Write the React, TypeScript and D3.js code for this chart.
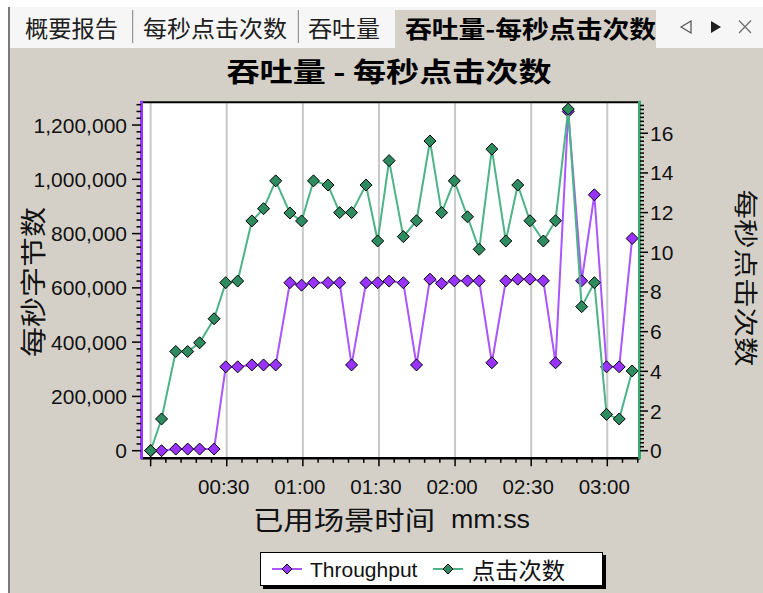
import React from "react";
import * as d3 from "d3";

// ---- data ----
const timesSec = [0, 4.3, 9.9, 14.6, 19.3, 25.0, 29.6, 34.3, 39.9, 44.5, 49.3, 54.9, 59.5, 64.2, 69.9, 74.5, 79.2, 84.9, 89.5, 94.0, 99.6, 104.8, 110.1, 114.7, 119.7, 124.9, 129.5, 134.5, 140.0, 144.7, 149.5, 154.8, 159.6, 164.6, 169.9, 174.9, 179.7, 184.7, 189.8];
const throughput = [0, 0, 6000, 6000, 6000, 6000, 309000, 309000, 316000, 316000, 316000, 619000, 610000, 619000, 619000, 619000, 316000, 619000, 619000, 625000, 619000, 316000, 632000, 616000, 626000, 626000, 626000, 324000, 626000, 632000, 632000, 626000, 324000, 1250000, 626000, 943000, 309000, 309000, 782000];
const hits = [0, 1.6, 5.0, 5.0, 5.44, 6.65, 8.47, 8.55, 11.58, 12.2, 13.6, 11.98, 11.58, 13.6, 13.39, 12.0, 12.0, 13.39, 10.57, 14.62, 10.79, 11.59, 15.61, 12.0, 13.6, 11.79, 10.15, 15.2, 10.57, 13.39, 11.59, 10.57, 11.59, 17.22, 7.26, 8.47, 1.83, 1.6, 4.02];

const xTickSec = [30, 60, 90, 120, 150, 180];
const xTickLabels = ["00:30", "01:00", "01:30", "02:00", "02:30", "03:00"];
const gridSec = [0, 30, 60, 90, 120, 150, 180];
const leftTicks = [0, 200000, 400000, 600000, 800000, 1000000, 1200000];
const rightTicks = [0, 2, 4, 6, 8, 10, 12, 14, 16];

const tabs = ["概要报告", "每秒点击次数", "吞吐量"];
const activeTab = "吞吐量-每秒点击次数";
const title = "吞吐量 - 每秒点击次数";
const leftTitle = "每秒字节数";
const rightTitle = "每秒点击次数";
const xTitle = "已用场景时间";
const xTitleUnit = "mm:ss";
const seriesNames = ["Throughput", "点击次数"];

// ---- styles ----
const W = 763, H = 593;
const PL = 141, PR = 639, PT = 101.7, PB = 458.3;
const PANEL = "#d4d0c8";
const PURPLE_LINE = "#aa55ff";
const PURPLE_FILL = "#9933ff";
const GREEN_LINE = "#4db386";
const GREEN_FILL = "#2e8b5f";
const CJK = "'Noto Sans CJK SC', sans-serif";
const LAT = "'Liberation Sans', Arial, sans-serif";

const x = d3.scaleLinear().domain([-3.8, 192.5]).range([PL, PR]);
const yL = d3.scaleLinear().domain([-28000, 1286000]).range([PB, PT]);
const yR = d3.scaleLinear().domain([-0.383, 17.59]).range([PB, PT]);

const fmt = d3.format(",");

function diamond(cx: number, cy: number, r: number) {
  return `M${cx},${cy - r}L${cx + r},${cy}L${cx},${cy + r}L${cx - r},${cy}Z`;
}

export default function App() {
  const lineT = d3.line<number>().x((_, i) => x(timesSec[i])).y((d) => yL(d));
  const lineH = d3.line<number>().x((_, i) => x(timesSec[i])).y((d) => yR(d));

  const xMinor = d3.range(0, 193, 6);
  const lMinor = d3.range(0, 1286000, 25000);
  const rMinor = d3.range(0, 17.59, 0.2);

  const tabPos = [25, 143, 308];
  const tabLen = [93, 144, 72];
  const sepX = [132.7, 298.3];

  return (
    <svg width={W} height={H} style={{ position: "absolute", left: 0, top: 0 }}>
      <rect x={0} y={0} width={W} height={H} fill="#ffffff" />
      <rect x={8} y={7} width={W - 8} height={41} fill="#f6f6f6" />
      <rect x={8} y={48} width={W - 8} height={H - 48} fill={PANEL} />
      <rect x={395} y={10} width={261} height={39} fill={PANEL} />
      <line x1={9} y1={7} x2={9} y2={H} stroke="#7a7a7a" strokeWidth={2} />

      {tabs.map((t, i) => (
        <text key={t} x={tabPos[i]} y={27} dominantBaseline="central" fontFamily={CJK} fontSize={23}
          textLength={tabLen[i]} lengthAdjust="spacingAndGlyphs" fill="#202020">{t}</text>
      ))}
      {sepX.map((s) => (
        <line key={s} x1={s} y1={10} x2={s} y2={43} stroke="#808080" strokeWidth={1} />
      ))}
      <text x={405} y={27} dominantBaseline="central" fontFamily={CJK} fontSize={24} fontWeight="bold"
        textLength={251} lengthAdjust="spacingAndGlyphs" fill="#000">{activeTab}</text>
      <path d="M691,21L681,27L691,33Z" fill="none" stroke="#505050" strokeWidth={1.2} />
      <path d="M711,21L721,27L711,33Z" fill="#202020" />
      <path d="M739,20.5L751,33M751,20.5L739,33" stroke="#707070" strokeWidth={1.3} />

      <text x={389} y={70} textAnchor="middle" dominantBaseline="central" fontFamily={CJK} fontSize={27}
        fontWeight="bold" textLength={325} lengthAdjust="spacingAndGlyphs" fill="#000">{title}</text>

      {/* plot area */}
      <rect x={PL} y={PT} width={PR - PL} height={PB - PT} fill="#ffffff" />
      {gridSec.map((s) => (
        <line key={s} x1={x(s)} y1={PT} x2={x(s)} y2={PB} stroke="#c8c8c8" strokeWidth={2} />
      ))}

      <path d={lineT(throughput) || ""} fill="none" stroke={PURPLE_LINE} strokeWidth={2} />
      {throughput.map((v, i) => (
        <path key={"t" + i} d={diamond(x(timesSec[i]), yL(v), 6)} fill={PURPLE_FILL} stroke="#000" strokeWidth={1} />
      ))}
      <path d={lineH(hits) || ""} fill="none" stroke={GREEN_LINE} strokeWidth={2} />
      {hits.map((v, i) => (
        <path key={"h" + i} d={diamond(x(timesSec[i]), yR(v), 6)} fill={GREEN_FILL} stroke="#000" strokeWidth={1} />
      ))}

      {/* frame */}
      <line x1={PL} y1={PT + 0.5} x2={PR} y2={PT + 0.5} stroke="#000" strokeWidth={2} />
      <line x1={PL} y1={PB} x2={PR + 1} y2={PB} stroke="#000" strokeWidth={2.5} />
      <line x1={PL + 0.5} y1={PT - 1} x2={PL + 0.5} y2={PB + 1} stroke={PURPLE_FILL} strokeWidth={3} />
      <line x1={PR + 0.5} y1={PT - 1} x2={PR + 0.5} y2={PB + 1} stroke="#3aa872" strokeWidth={3} />

      {/* x ticks */}
      {xMinor.map((s) => (
        <line key={"xm" + s} x1={x(s)} y1={PB} x2={x(s)} y2={s % 30 === 0 ? PB + 8 : PB + 4.5} stroke="#000" strokeWidth={1.5} />
      ))}
      {xTickSec.map((s, i) => (
        <text key={"xl" + s} x={x(s) - 3} y={494} textAnchor="middle" fontFamily={LAT} fontSize={20.5} fill="#111">{xTickLabels[i]}</text>
      ))}

      {/* left ticks */}
      {lMinor.map((v) => (
        <line key={"lm" + v} x1={v % 200000 === 0 ? PL - 9 : PL - 4.5} y1={yL(v)} x2={PL} y2={yL(v)} stroke="#000" strokeWidth={1.5} />
      ))}
      {leftTicks.map((v) => (
        <text key={"ll" + v} x={127} y={yL(v)} textAnchor="end" dominantBaseline="central" fontFamily={LAT} fontSize={21} fill="#111">{fmt(v)}</text>
      ))}

      {/* right ticks */}
      {rMinor.map((v, i) => (
        <line key={"rm" + i} x1={PR + 1} y1={yR(v)} x2={i % 10 === 0 ? PR + 9 : PR + 5} y2={yR(v)} stroke="#000" strokeWidth={1.5} />
      ))}
      {rightTicks.map((v) => (
        <text key={"rl" + v} x={650} y={yR(v)} dominantBaseline="central" fontFamily={LAT} fontSize={21} fill="#111">{v}</text>
      ))}

      {/* axis titles */}
      <text transform="translate(31,282) rotate(-90)" textAnchor="middle" dominantBaseline="central" fontFamily={CJK}
        fontSize={26} textLength={150} lengthAdjust="spacingAndGlyphs" fill="#111">{leftTitle}</text>
      <text transform="translate(747,278) rotate(90)" textAnchor="middle" dominantBaseline="central" fontFamily={CJK}
        fontSize={24} textLength={177} lengthAdjust="spacingAndGlyphs" fill="#111">{rightTitle}</text>
      <text x={253} y={518} dominantBaseline="central" fontFamily={CJK} fontSize={26} textLength={182}
        lengthAdjust="spacingAndGlyphs" fill="#111">{xTitle}</text>
      <text x={451} y={528} fontFamily={LAT} fontSize={25} textLength={79} lengthAdjust="spacingAndGlyphs" fill="#111">{xTitleUnit}</text>

      {/* legend */}
      <rect x={263} y={555} width={343} height={34} fill="#000" />
      <rect x={260.5} y={552.5} width={342} height={33} fill="#fff" stroke="#000" strokeWidth={1} />
      <line x1={272} y1={569} x2={302} y2={569} stroke={PURPLE_LINE} strokeWidth={2} />
      <path d={diamond(287, 569, 5)} fill={PURPLE_FILL} stroke="#000" strokeWidth={1} />
      <text x={310} y={569} dominantBaseline="central" fontFamily={LAT} fontSize={21} fill="#111">{seriesNames[0]}</text>
      <line x1={433} y1={569} x2={463} y2={569} stroke={GREEN_LINE} strokeWidth={2} />
      <path d={diamond(448, 569, 5)} fill={GREEN_FILL} stroke="#000" strokeWidth={1} />
      <text x={472} y={569} dominantBaseline="central" fontFamily={CJK} fontSize={23} textLength={93}
        lengthAdjust="spacingAndGlyphs" fill="#111">{seriesNames[1]}</text>
    </svg>
  );
}
